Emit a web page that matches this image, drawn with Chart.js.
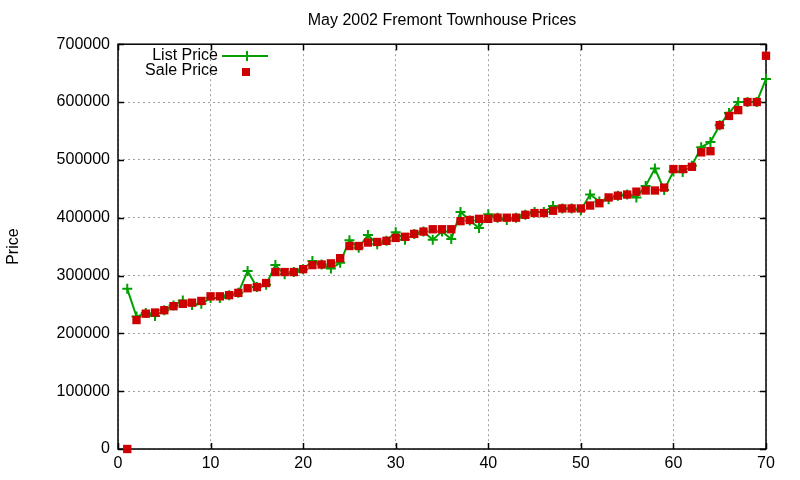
<!DOCTYPE html>
<html>
<head>
<meta charset="utf-8">
<script src="https://cdn.jsdelivr.net/npm/chart.js@4"></script>
<style>
  body { margin: 0; background: #fff; }
  #wrap { width: 800px; height: 480px; }
</style>
</head>
<body>
<div id="wrap"><canvas id="myCanvas" width="800" height="480"></canvas></div>
<script>
// house index (x axis)
const houses = [1, 2, 3, 4, 5, 6, 7, 8, 9, 10, 11, 12, 13, 14, 15, 16, 17, 18, 19, 20,
  21, 22, 23, 24, 25, 26, 27, 28, 29, 30, 31, 32, 33, 34, 35, 36, 37, 38, 39, 40,
  41, 42, 43, 44, 45, 46, 47, 48, 49, 50, 51, 52, 53, 54, 55, 56, 57, 58, 59, 60,
  61, 62, 63, 64, 65, 66, 67, 68, 69, 70];

const listPrice = [277000, 229000, 235000, 230000, 240000, 248000, 257000, 249000, 251000, 261000,
  261000, 266000, 270000, 308000, 280000, 284000, 318000, 302000, 306000, 311000,
  325000, 319000, 312000, 322000, 361000, 348000, 370000, 354000, 360000, 375000,
  362000, 372000, 376000, 362000, 376000, 363000, 410000, 395000, 382000, 406000,
  400000, 396000, 400000, 405000, 410000, 410000, 420000, 416000, 416000, 413000,
  440000, 428000, 432000, 438000, 440000, 435000, 455000, 485000, 448000, 480000,
  479000, 490000, 522000, 531000, 560000, 581000, 600000, 600000, 600000, 640000];

const salePrice = [0, 223000, 234000, 236000, 240000, 247000, 251000, 253000, 256000, 264000,
  264000, 266000, 270000, 278000, 280000, 287000, 306000, 306000, 306000, 311000,
  318000, 319000, 321000, 330000, 351000, 351000, 357000, 358000, 360000, 365000,
  367000, 372000, 376000, 380000, 380000, 380000, 394000, 396000, 398000, 398000,
  400000, 400000, 400000, 405000, 408000, 408000, 412000, 416000, 416000, 416000,
  421000, 425000, 435000, 438000, 440000, 445000, 447000, 447000, 452000, 484000,
  484000, 488000, 513000, 515000, 560000, 576000, 586000, 600000, 600000, 680000];

const xTicks = [0, 10, 20, 30, 40, 50, 60, 70];
const yTicks = [0, 100000, 200000, 300000, 400000, 500000, 600000, 700000];

const GREEN = "#00a000";
const RED = "#cc0000";
const FONT = "'Liberation Sans', Arial, sans-serif";

// border, inward tick marks and the legend, gnuplot style
const framePlugin = {
  id: "frame",
  beforeDatasetsDraw(chart) {
    const ctx = chart.ctx;
    const a = chart.chartArea;
    const xs = chart.scales.x;
    const ys = chart.scales.y;
    ctx.save();
    ctx.strokeStyle = "#000";
    ctx.lineWidth = 1.5;
    ctx.beginPath();
    xTicks.forEach(v => {
      const px = Math.round(xs.getPixelForValue(v)) + 0.5;
      ctx.moveTo(px, a.bottom); ctx.lineTo(px, a.bottom - 6);
      ctx.moveTo(px, a.top); ctx.lineTo(px, a.top + 6);
    });
    yTicks.forEach(v => {
      const py = Math.round(ys.getPixelForValue(v)) + 0.5;
      ctx.moveTo(a.left, py); ctx.lineTo(a.left + 6, py);
      ctx.moveTo(a.right, py); ctx.lineTo(a.right - 6, py);
    });
    ctx.stroke();
    ctx.strokeRect(a.left, a.top, a.right - a.left, a.bottom - a.top);

    // legend
    ctx.font = "16px " + FONT;
    ctx.fillStyle = "#000";
    ctx.textAlign = "right";
    ctx.textBaseline = "middle";
    ctx.fillText("List Price", 218, 56);
    ctx.fillText("Sale Price", 218, 71);
    ctx.strokeStyle = GREEN;
    ctx.lineWidth = 2;
    ctx.beginPath();
    ctx.moveTo(222, 56); ctx.lineTo(268, 56);
    ctx.moveTo(247, 51); ctx.lineTo(247, 61);
    ctx.stroke();
    ctx.fillStyle = RED;
    ctx.fillRect(242, 68, 8, 8);
    ctx.restore();
  }
};

function createChart() {
  const canvas = document.getElementById("myCanvas");
  const ctx = canvas.getContext("2d");

  const data = {
    datasets: [
      {
        label: "Sale Price",
        data: houses.map((h, i) => ({ x: h, y: salePrice[i] })),
        showLine: false,
        pointStyle: "rect",
        pointRadius: 5.9,
        pointHoverRadius: 5.9,
        backgroundColor: RED,
        borderColor: RED,
        borderWidth: 0,
        clip: false,
        order: 0,
      },
      {
        label: "List Price",
        data: houses.map((h, i) => ({ x: h, y: listPrice[i] })),
        showLine: true,
        borderColor: GREEN,
        backgroundColor: GREEN,
        borderWidth: 2,
        pointStyle: "cross",
        pointRadius: 5,
        pointHoverRadius: 5,
        pointBorderWidth: 2,
        tension: 0,
        clip: false,
        order: 1,
      },
    ],
  };

  const gridStyle = {
    color: "#a0a0a0",
    lineWidth: 1,
    drawTicks: false,
  };

  const options = {
    responsive: false,
    animation: false,
    layout: { padding: { left: 0, right: 34, top: 0, bottom: 0 } },
    plugins: {
      legend: { display: false },
      tooltip: { enabled: false },
      title: {
        display: true,
        fullSize: false,
        text: "May 2002 Fremont Townhouse Prices",
        color: "#000",
        font: { family: FONT, size: 16, weight: "normal" },
        padding: { top: 11, bottom: 14 },
      },
    },
    scales: {
      x: {
        type: "linear",
        min: 0,
        max: 70,
        afterBuildTicks: s => { s.ticks = xTicks.map(v => ({ value: v })); },
        afterFit: s => { s.height = 31; },
        grid: gridStyle,
        border: { display: false, dash: [2, 3] },
        ticks: {
          color: "#000",
          padding: 5,
          maxRotation: 0,
          font: { family: FONT, size: 16 },
          callback: v => String(v),
        },
      },
      y: {
        type: "linear",
        min: 0,
        max: 700000,
        afterBuildTicks: s => { s.ticks = yTicks.map(v => ({ value: v })); },
        afterFit: s => { s.width = 118; },
        grid: gridStyle,
        border: { display: false, dash: [2, 3] },
        title: {
          display: true,
          text: "Price",
          color: "#000",
          font: { family: FONT, size: 16 },
          padding: { top: 4, bottom: 0 },
        },
        ticks: {
          color: "#000",
          padding: 8,
          font: { family: FONT, size: 16 },
          callback: v => String(v),
        },
      },
    },
  };

  new Chart(ctx, {
    type: "scatter",
    data: data,
    options: options,
    plugins: [framePlugin],
  });
}

createChart();
</script>
</body>
</html>
